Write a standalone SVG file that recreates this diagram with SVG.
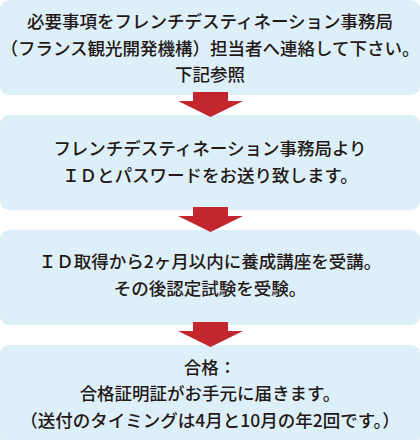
<svg xmlns="http://www.w3.org/2000/svg" width="420" height="440" viewBox="0 0 420 440">
<style>
.box{fill:#ddeff8;}
.t{font-family:"Noto Sans CJK JP","Noto Sans",sans-serif;font-size:17.5px;font-weight:500;fill:#231815;text-anchor:middle;}
.arr{fill:#c1272d;}
</style>
<defs>
<g id="arrow"><rect x="193" y="0" width="35" height="10"/><polygon points="178,9 243,9 210.5,25"/></g>
</defs>
<rect width="420" height="440" fill="#ffffff"/>
<g id="step1"><rect class="box" x="0" y="0" width="420" height="95" rx="9"/>
<text class="t" x="210" y="28">必要事項をフレンチデスティネーション事務局</text>
<text class="t" x="210" y="54.7">（フランス観光開発機構）担当者へ連絡して下さい。</text>
<text class="t" x="210" y="81.4">下記参照</text></g>
<g id="step2"><rect class="box" x="0" y="115" width="420" height="95" rx="9"/>
<text class="t" x="210" y="155.3">フレンチデスティネーション事務局より</text>
<text class="t" x="210" y="181.7">ＩＤとパスワードをお送り致します。</text></g>
<g id="step3"><rect class="box" x="0" y="230" width="420" height="95" rx="9"/>
<text class="t" x="210" y="268">ＩＤ取得から2ヶ月以内に養成講座を受講。</text>
<text class="t" x="210" y="295">その後認定試験を受験。</text></g>
<g id="step4"><rect class="box" x="0" y="345" width="420" height="100" rx="9"/>
<text class="t" x="210" y="373.5">合格：</text>
<text class="t" x="210" y="400">合格証明証がお手元に届きます。</text>
<text class="t" x="210" y="426.5">（送付のタイミングは4月と10月の年2回です。）</text></g>
<g id="connectors" class="arr">
<use href="#arrow" y="92"/>
<use href="#arrow" y="207"/>
<use href="#arrow" y="322"/>
</g>
</svg>
